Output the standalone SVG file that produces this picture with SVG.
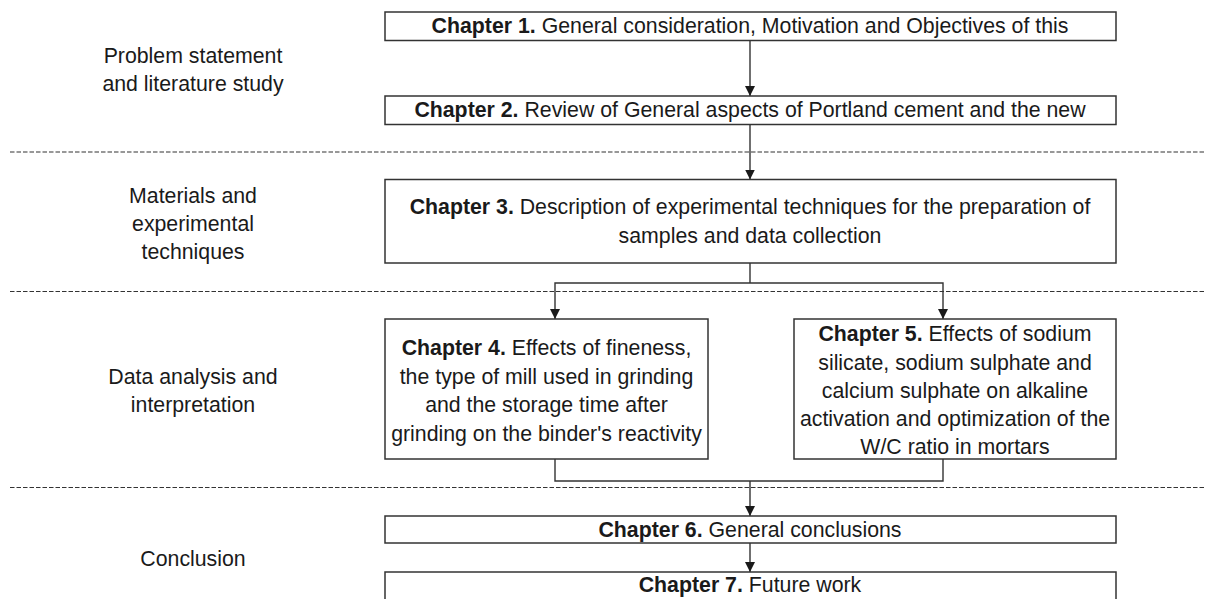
<svg xmlns="http://www.w3.org/2000/svg" width="1206" height="599" viewBox="0 0 1206 599">
<defs>
<style>
text{font-family:"Liberation Sans",Arial,sans-serif;font-size:21.3px;fill:#1a1a1a;text-anchor:middle}
.b{font-weight:bold}
.box{fill:#fff;stroke:#333;stroke-width:1.5}
.sep{stroke:#333;stroke-width:1.2;stroke-dasharray:4.5 2;fill:none}
.con{stroke:#333;stroke-width:1.4;fill:none}
.arr{marker-end:url(#ah)}
</style>
<marker id="ah" viewBox="0 0 10 10" refX="10" refY="5" markerWidth="10" markerHeight="10" markerUnits="userSpaceOnUse" orient="auto">
<path d="M0,0 L10,5 L0,10 Z" fill="#1a1a1a"/>
</marker>
</defs>
<rect width="1206" height="599" fill="#fff"/>
<g id="separators">
<line class="sep" x1="10" y1="152" x2="1206" y2="152"/>
<line class="sep" x1="10" y1="291.5" x2="1206" y2="291.5"/>
<line class="sep" x1="10" y1="487.5" x2="1206" y2="487.5"/>
</g>
<g id="labels">
<text x="193" y="63">Problem statement</text>
<text x="193" y="91">and literature study</text>
<text x="193" y="203">Materials and</text>
<text x="193" y="231">experimental</text>
<text x="193" y="259">techniques</text>
<text x="193" y="384">Data analysis and</text>
<text x="193" y="412">interpretation</text>
<text x="193" y="566">Conclusion</text>
</g>
<g id="connectors">
<line class="con arr" x1="750" y1="41" x2="750" y2="96"/>
<line class="con arr" x1="750" y1="124" x2="750" y2="179.5"/>
<polyline class="con" points="750,263 750,283"/>
<polyline class="con arr" points="750,283 555,283 555,319"/>
<polyline class="con arr" points="750,283 943,283 943,319"/>
<polyline class="con" points="555,459 555,481 943,481 943,459"/>
<line class="con arr" x1="750" y1="481" x2="750" y2="516"/>
<line class="con arr" x1="750" y1="543" x2="750" y2="572"/>
</g>
<g id="ch1">
<rect class="box" x="385" y="12" width="731" height="28.5"/>
<text x="750" y="33"><tspan class="b">Chapter 1.</tspan> General consideration, Motivation and Objectives of this</text>
</g>
<g id="ch2">
<rect class="box" x="385" y="96" width="731" height="28.5"/>
<text x="750" y="117"><tspan class="b">Chapter 2.</tspan> Review of General aspects of Portland cement and the new</text>
</g>
<g id="ch3">
<rect class="box" x="385" y="179.5" width="731" height="83.5"/>
<text x="750" y="214"><tspan class="b">Chapter 3.</tspan> Description of experimental techniques for the preparation of</text>
<text x="750" y="243">samples and data collection</text>
</g>
<g id="ch4">
<rect class="box" x="385" y="319" width="323" height="140"/>
<text x="546.5" y="355"><tspan class="b">Chapter 4.</tspan> Effects of fineness,</text>
<text x="546.5" y="384">the type of mill used in grinding</text>
<text x="546.5" y="412">and the storage time after</text>
<text x="546.5" y="441">grinding on the binder's reactivity</text>
</g>
<g id="ch5">
<rect class="box" x="794" y="319" width="322" height="140"/>
<text x="955" y="341"><tspan class="b">Chapter 5.</tspan> Effects of sodium</text>
<text x="955" y="369.5">silicate, sodium sulphate and</text>
<text x="955" y="398">calcium sulphate on alkaline</text>
<text x="955" y="426">activation and optimization of the</text>
<text x="955" y="454">W/C ratio in mortars</text>
</g>
<g id="ch6">
<rect class="box" x="385" y="516" width="731" height="27"/>
<text x="750" y="537"><tspan class="b">Chapter 6.</tspan> General conclusions</text>
</g>
<g id="ch7">
<rect class="box" x="385" y="572" width="731" height="40"/>
<text x="750" y="592"><tspan class="b">Chapter 7.</tspan> Future work</text>
</g>
</svg>
